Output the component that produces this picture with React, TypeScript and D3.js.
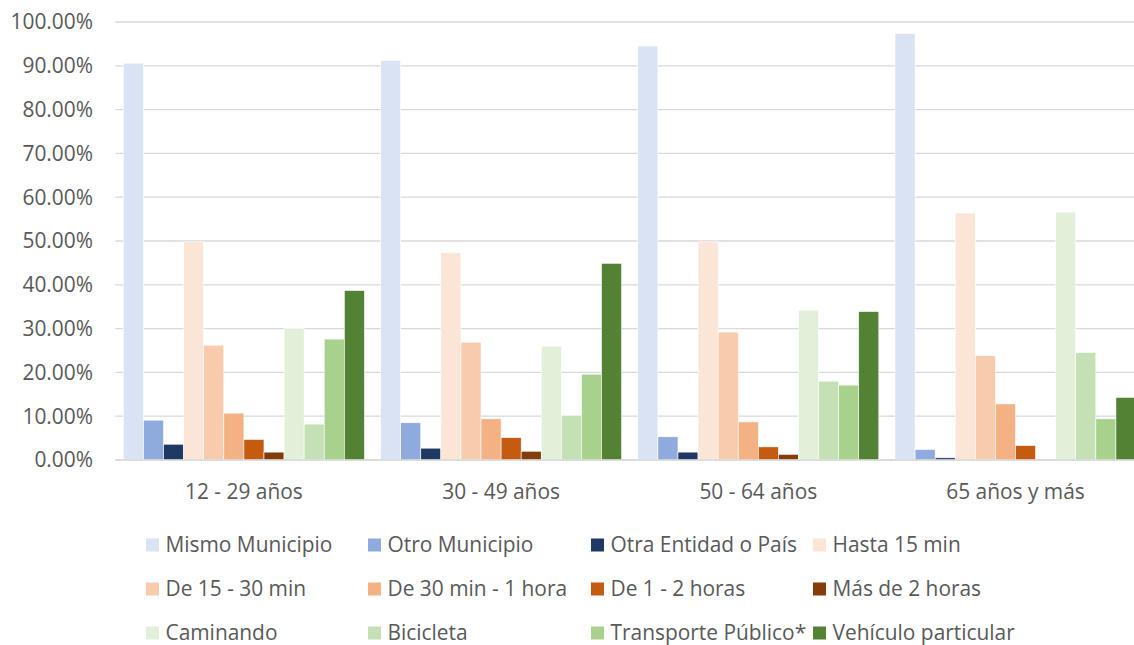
import React from "react";
import * as d3 from "d3";

const categories = ["12 - 29 años", "30 - 49 años", "50 - 64 años", "65 años y más"];
const seriesNames = [
  "Mismo Municipio",
  "Otro Municipio",
  "Otra Entidad o País",
  "Hasta 15 min",
  "De 15 - 30 min",
  "De 30 min - 1 hora",
  "De 1 - 2 horas",
  "Más de 2 horas",
  "Caminando",
  "Bicicleta",
  "Transporte Público*",
  "Vehículo particular",
];
const seriesColors = [
  "#DAE3F3", "#8FAADC", "#203864",
  "#FBE5D6", "#F8CBAD", "#F4B183", "#C55A11", "#843C0C",
  "#E2F0D9", "#C5E0B4", "#A9D18E", "#548235",
];
// values in percent, one array per series (order of categories)
const mismoMunicipio = [90.6, 91.2, 94.5, 97.4];
const otroMunicipio = [9.1, 8.5, 5.3, 2.4];
const otraEntidad = [3.6, 2.7, 1.8, 0.5];
const hasta15 = [49.8, 47.3, 49.8, 56.4];
const de15a30 = [26.2, 26.9, 29.2, 23.8];
const de30a1h = [10.7, 9.4, 8.7, 12.8];
const de1a2h = [4.7, 5.1, 3.0, 3.3];
const mas2h = [1.8, 2.0, 1.3, 0];
const caminando = [30.0, 26.0, 34.2, 56.6];
const bicicleta = [8.2, 10.2, 18.0, 24.5];
const transporte = [27.6, 19.6, 17.1, 9.4];
const vehiculo = [38.7, 44.9, 33.9, 14.3];
const seriesValues = [
  mismoMunicipio, otroMunicipio, otraEntidad, hasta15, de15a30, de30a1h,
  de1a2h, mas2h, caminando, bicicleta, transporte, vehiculo,
];
const yTicks = [0, 10, 20, 30, 40, 50, 60, 70, 80, 90, 100];

const W = 1134;
const H = 645;
const FONT = "'Open Sans', 'Noto Sans', sans-serif";
const TXT = "#595959";
const FS = 20.9;

export default function App() {
  const plotLeft = 115.3;
  const plotRight = plotLeft + 4 * 257.2;
  const y = d3.scaleLinear().domain([0, 100]).range([460, 22]);
  const x0 = d3
    .scaleBand<string>()
    .domain(categories)
    .range([plotLeft, plotRight])
    .paddingInner(0.063)
    .paddingOuter(0.0315);
  const x1 = d3
    .scaleBand<number>()
    .domain(d3.range(seriesNames.length))
    .range([0, x0.bandwidth()])
    .padding(0);

  const legendCols = [146, 368, 591, 813];
  const legendRows = [545, 589, 633];

  return (
    <svg
      width={W}
      height={H}
      style={{ position: "absolute", left: 0, top: 0, background: "#fff" }}
      fontFamily={FONT}
    >
      <rect x={0} y={0} width={W} height={H} fill="#fff" />
      {yTicks.map((t) => (
        <g key={t}>
          <line
            x1={plotLeft}
            x2={W}
            y1={y(t)}
            y2={y(t)}
            stroke="#D9D9D9"
            strokeWidth={1.3}
          />
          <text
            x={93}
            y={y(t)}
            dy="0.35em"
            textAnchor="end"
            fontSize={FS}
            fill={TXT}
          >
            {t.toFixed(2) + "%"}
          </text>
        </g>
      ))}
      {categories.map((c, ci) => (
        <g key={c} transform={`translate(${x0(c)},0)`}>
          {seriesValues.map((vals, si) => {
            const v = vals[ci];
            if (v <= 0) return null;
            return (
              <rect
                key={si}
                x={x1(si)}
                y={y(v)}
                width={x1.bandwidth()}
                height={y(0) - y(v)}
                fill={seriesColors[si]}
                stroke="#fff"
                strokeWidth={0.6}
              />
            );
          })}
          <text
            x={x0.bandwidth() / 2}
            y={492}
            dy="0.35em"
            textAnchor="middle"
            fontSize={FS}
            fill={TXT}
          >
            {c}
          </text>
        </g>
      ))}
      <line x1={plotLeft} x2={W} y1={y(0)} y2={y(0)} stroke="#D9D9D9" strokeWidth={1.5} />
      {seriesNames.map((s, i) => {
        const col = i % 4;
        const row = Math.floor(i / 4);
        const lx = legendCols[col];
        const ly = legendRows[row];
        return (
          <g key={s}>
            <rect x={lx} y={ly - 6.5} width={13} height={13} fill={seriesColors[i]} />
            <text x={lx + 19.5} y={ly} dy="0.35em" fontSize={FS} fill={TXT}>
              {s}
            </text>
          </g>
        );
      })}
    </svg>
  );
}
